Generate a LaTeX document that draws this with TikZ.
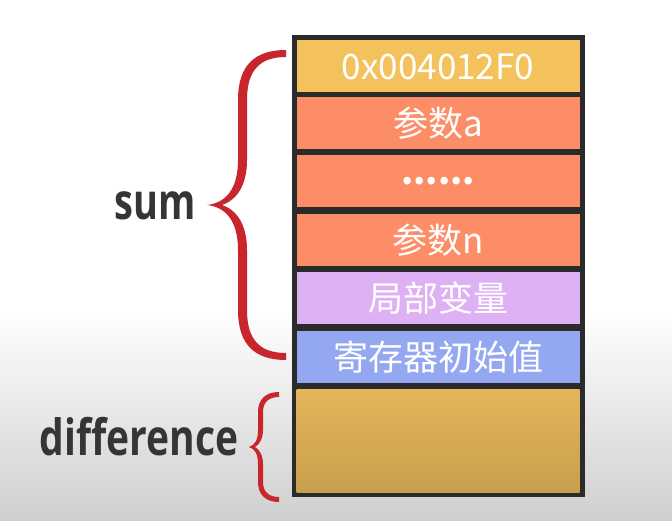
\documentclass[tikz,border=0pt]{standalone}
\usepackage{fontspec}
\setmainfont{Open Sans}
\newfontfamily\cjk{Noto Sans CJK SC}
\newfontfamily\lab{Open Sans}
\usetikzlibrary{shadings}
\definecolor{bgray}{HTML}{CFCFCF}
\definecolor{frame}{HTML}{2B2B2B}
\definecolor{cyel}{HTML}{F3C25D}
\definecolor{corg}{HTML}{FD8D66}
\definecolor{cpur}{HTML}{DEB0F4}
\definecolor{cblu}{HTML}{94A8F2}
\definecolor{cgtop}{HTML}{E5B65A}
\definecolor{cgbot}{HTML}{C89F4D}
\definecolor{bred}{HTML}{C8252D}
\definecolor{ltext}{HTML}{353535}
\tikzset{
  cell/.style={draw=none, minimum width=283pt, minimum height=52pt, inner sep=0pt,
    text=white, font=\cjk\fontsize{35}{38}\selectfont},
  lbl/.style={text=ltext, inner sep=0pt, font=\lab\bfseries\fontsize{50}{56}\selectfont},
  bracefill/.style={fill=bred, draw=none}
}
\begin{document}
\begin{tikzpicture}[x=1pt,y=-1pt]
\useasboundingbox (0,0) rectangle (672,521);
\fill[white] (0,0) rectangle (672,521);
\shade[top color=white, bottom color=bgray] (0,310) rectangle (672,521);
% stack frame
\fill[frame] (291.5,35) rectangle (584.5,497);
\node[cell, fill=cyel] (c1) at (438,66.5) {0x004012F0};
\node[cell, fill=corg] (c2) at (438,123) {参数a};
\node[cell, fill=corg] (c3) at (438,181.5) {\raisebox{-6pt}{\textbf{......}}};
\node[cell, fill=corg] (c4) at (438,240) {参数n};
\node[cell, fill=cpur] (c5) at (438,298) {局部变量};
\node[cell, fill=cblu] (c6) at (438,357) {寄存器初始值};
\shade[top color=cgtop, bottom color=cgbot] (296.5,389) rectangle (579.5,492);
\node[cell, minimum height=103pt] (c7) at (438,440.5) {};
% sum brace
\path[bracefill] (286,50) .. controls (255,50) and (238,65) .. (238,100)
  -- (238,160) .. controls (238,190) and (225,203) .. (207,205)
  .. controls (225,207) and (238,220) .. (238,250)
  -- (238,310) .. controls (238,345) and (255,360) .. (286,360)
  -- (286,353) .. controls (260,353) and (247,340) .. (247,310)
  -- (247,250) .. controls (247,225) and (237,210) .. (222,205)
  .. controls (237,200) and (247,185) .. (247,160)
  -- (247,100) .. controls (247,70) and (260,57) .. (286,57) -- cycle;
% difference brace
\path[bracefill] (279,392) .. controls (265,392) and (258,400) .. (258,412)
  -- (258,430) .. controls (258,440) and (255,445) .. (249,447)
  .. controls (255,449) and (258,454) .. (258,464)
  -- (258,482) .. controls (258,494) and (265,502) .. (279,502)
  -- (279,497) .. controls (268,497) and (263,491) .. (263,482)
  -- (263,464) .. controls (263,455) and (259,449) .. (255,447)
  .. controls (259,445) and (263,439) .. (263,430)
  -- (263,412) .. controls (263,403) and (268,397) .. (279,397) -- cycle;
\node[lbl] (sum) at (155,206) {\scalebox{0.76}[1]{sum}};
\node[lbl] (diff) at (139,437) {\scalebox{0.78}[1]{difference}};
\end{tikzpicture}
\end{document}
